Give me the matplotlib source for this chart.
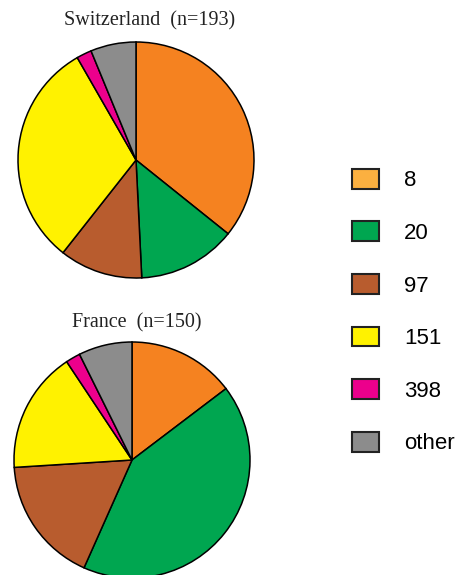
import matplotlib
matplotlib.use("Agg")
import matplotlib.pyplot as plt
from matplotlib.patches import Patch

labels = ["8", "20", "97", "151", "398", "other"]
swiss = [69, 26, 22, 60, 4, 12]
france = [22, 63, 26, 25, 3, 11]
titles = ["Switzerland  (n=193)", "France  (n=150)"]

colors = ["#F58220", "#00A650", "#B85C2E", "#FFF200", "#EC008C", "#8C8C8C"]
legend_colors = ["#FBB040", "#00A650", "#B85C2E", "#FFF200", "#EC008C", "#8C8C8C"]

W, H = 463, 575
fig = plt.figure(figsize=(W / 100, H / 100), dpi=100)


def pie_axes(cx, cy, r):
    return fig.add_axes([(cx - r) / W, 1 - (cy + r) / H, 2 * r / W, 2 * r / H])


ax1 = pie_axes(136, 160, 118)
ax2 = pie_axes(132, 460, 118)

# title positions in pixels (centre of text)
title_pos = [(150, 21), (137, 323)]

for ax, vals, title, (tx, ty) in zip([ax1, ax2], [swiss, france], titles, title_pos):
    ax.pie(vals, colors=colors, startangle=90, counterclock=False,
           wedgeprops=dict(edgecolor="black", linewidth=1.1))
    ax.set_aspect("equal")
    ax.set_xlim(-1, 1)
    ax.set_ylim(-1, 1)
    ax.axis("off")
    fig.text(tx / W, 1 - ty / H, title, family="Liberation Serif", fontsize=14.5,
             color="#222222", ha="center", va="center")

handles = [Patch(facecolor=c, edgecolor="#222222", linewidth=1.5) for c in legend_colors]
fig.legend(handles, labels, loc="upper left", bbox_to_anchor=(343 / W, 1 - 160 / H),
           frameon=False, prop=dict(family="Liberation Sans", size=16),
           handlelength=1.2, handleheight=1.0, handletextpad=1.15,
           labelspacing=1.35, borderaxespad=0)

fig.savefig("out.png", dpi=100)
